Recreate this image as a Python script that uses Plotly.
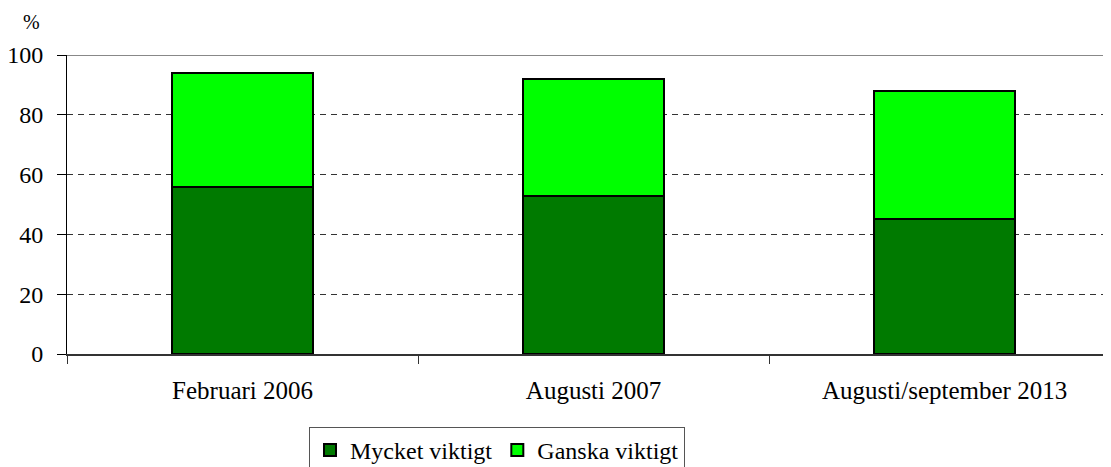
import plotly.graph_objects as go

categories = ["Februari 2006", "Augusti 2007", "Augusti/september 2013"]
mycket_viktigt = [56, 53, 45]
ganska_viktigt = [38, 39, 43]
y_ticks = [0, 20, 40, 60, 80, 100]
series_names = ["Mycket viktigt", "Ganska viktigt"]

FONT = "Liberation Serif"
W, H = 1103, 459
ML, MT, MB, MR = 59, 47, 113, 0

fig = go.Figure()
fig.add_trace(go.Bar(
    x=categories, y=mycket_viktigt, name=series_names[0],
    marker=dict(color="#007A00", line=dict(color="black", width=2)),
    width=0.40,
))
fig.add_trace(go.Bar(
    x=categories, y=ganska_viktigt, name=series_names[1],
    marker=dict(color="#00FF00", line=dict(color="black", width=2)),
    width=0.40,
))

plot_w = W - ML - MR
plot_h = H - MT - MB

fig.update_layout(
    width=W, height=H,
    barmode="stack",
    plot_bgcolor="white", paper_bgcolor="white",
    margin=dict(l=ML, r=MR, t=MT, b=MB, autoexpand=False),
    font=dict(family=FONT, size=24, color="black"),
    showlegend=True,
    legend=dict(
        orientation="h", xref="container", yref="container",
        x=301 / W, y=1 - 419 / H, xanchor="left", yanchor="top",
        bordercolor="#555", borderwidth=1, bgcolor="white",
        font=dict(family=FONT, size=24, color="black"),
        itemwidth=30, tracegroupgap=0, traceorder="normal",
    ),
    xaxis=dict(
        type="category", range=[-0.5, 2.474], automargin=False,
        showline=True, linecolor="#333", linewidth=2,
        ticks="outside", tickson="boundaries", ticklen=8, tickcolor="#333",
        showgrid=False, ticklabelstandoff=13,
        tickfont=dict(family=FONT, size=25),
    ),
    yaxis=dict(
        range=[0, 100], tickvals=y_ticks, automargin=False,
        showline=True, linecolor="black", linewidth=1,
        ticks="outside", ticklen=9, tickcolor="black",
        showgrid=True, gridcolor="#333", gridwidth=1, griddash="6px,5px",
        zeroline=False, ticklabelstandoff=9, ticklabeloverflow="allow",
        tickfont=dict(family=FONT, size=24),
    ),
    shapes=[dict(type="line", xref="paper", yref="y", x0=0, x1=1, y0=y_ticks[-1], y1=y_ticks[-1],
                 line=dict(color="#888", width=2), layer="below")],
    annotations=[dict(text="%", xref="paper", yref="paper",
                      x=(23 - ML) / plot_w, y=1 + (MT - 14) / plot_h,
                      xanchor="center", yanchor="middle", showarrow=False,
                      font=dict(family=FONT, size=20))],
)

fig.write_html("out.html")
